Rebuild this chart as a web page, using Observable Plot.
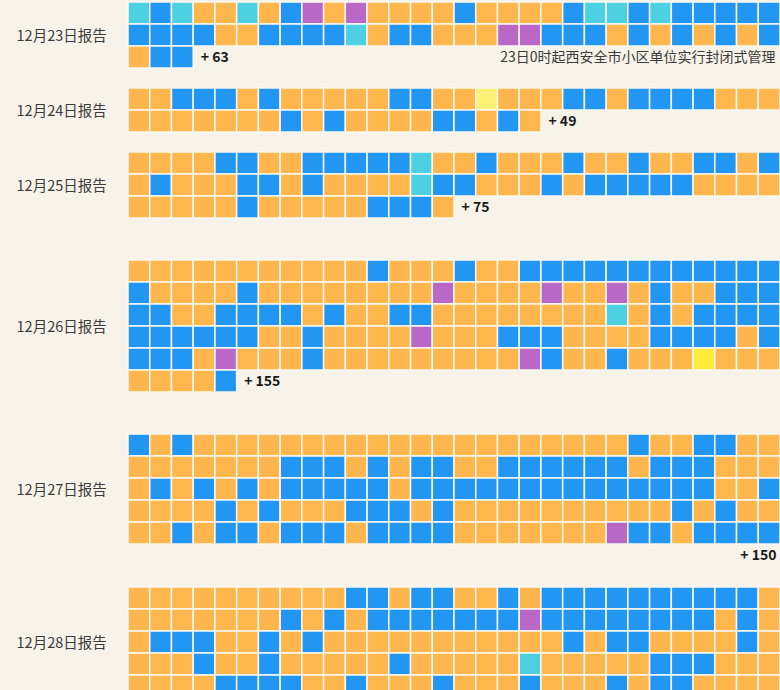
<!DOCTYPE html>
<html><head><meta charset="utf-8">
<script src="https://cdn.jsdelivr.net/npm/d3@7"></script>
<script src="https://cdn.jsdelivr.net/npm/@observablehq/plot@0.6"></script>
<style>
html,body{margin:0;padding:0;background:#F7F3E9;overflow:hidden;}
#chart svg{display:block;}
</style></head><body><div id="chart"></div>
<script>
// ---- data ----
const days = ["12月23日报告","12月24日报告","12月25日报告","12月26日报告","12月27日报告","12月28日报告"];
const newCases = [63, 49, 75, 155, 150, null];
const note = "23日0时起西安全市小区单位实行封闭式管理";
const noteDay = 0;

// O orange, B blue, C cyan, P purple, L light yellow, Y yellow
const cells23 = [
  "CBCOOCOBPOPOOOOBOOOOBCCBCBBBBB",
  "BBBBOOBBBBCOBBOOOPPBBBOBOBOBOB",
  "OBB"
];
const cells24 = [
  "OOBBBOBOOOOOBBOOLOOOBBOBBBBOOO",
  "OOOOOOOBOBOOOOBBOBO"
];
const cells25 = [
  "OOOOBBOOBBBBBCOOBOOOBOOBOOBBOB",
  "OBOOOBBOBOOOOCBBOOOBOBBBBBOOOO",
  "OOOOOBOOOOOBBBO"
];
const cells26 = [
  "OOOOOOOOOOOBOOOBOOBBBBBBBBBBBB",
  "BOOOOBOOOOOOOOPOOOOPOOPOBOOBBB",
  "BBOOBBBBOBOOBBOOOOOOOOCOBOBBBB",
  "BBBBBBOOBOOOOPOOOBBBOOOOBBBBOB",
  "BBBOPOOOBOOOOOOOOOPBOOBOOOYOOO",
  "OOOOB"
];
const cells27 = [
  "BOBOOOOOOOOOOOOOOOOOOOOBOOBBOO",
  "OOOOOOOBBBOBOBBOOBBBBBBOBBBOOO",
  "OBOBOBOBBBBBOBBBBBBBBBBBBBBOOB",
  "OOOOBOBOOOBBBOBOOOOOOOOOOBOBOO",
  "OOBOBBOBBBOBBBBOOOOOOOPBBOBBBB"
];
const cells28 = [
  "OOOOOOOOOOBBOBBOOBOBBBBBBBBBBO",
  "OOOOOOOBOBOBBBBBBBPBBBBBBBBOBO",
  "OBBBOOBOBOOOOOOOOOOOBOBBOOOOBO",
  "OOOBOOBOOOOOBOOOOOCOOOOOBBBOOO",
  "OOOOBBBBOOBOOOBOOOBOOOBOBBOOOO"
];
const dayCells = [cells23, cells24, cells25, cells26, cells27, cells28];
const categoryCodes = ["O","B","C","P","L","Y"];
const categoryColors = ["#FFB74D","#2196F3","#4DD0E1","#BA68C8","#FFF176","#FFEB3B"];

// ---- layout ----
const W = 780, H = 690, rowPx = 22, perRow = 30;
const topPx = 2;
const gapPx = [20, 20, 42, 42, 21];

const cells = [], labels = [], added = [], notes = [];
let y0 = topPx / rowPx;
dayCells.forEach((rows, i) => {
  rows.forEach((r, ri) => {
    [...r].forEach((code, ci) => cells.push({x: ci, y: y0 + ri, code}));
  });
  const nRows = rows.length;
  labels.push({x: -1, y: y0 + nRows / 2 + 0.05, text: days[i]});
  const last = rows[nRows - 1];
  let blockRows = nRows;
  if (newCases[i] != null) {
    if (last.length < perRow) {
      added.push({x: last.length, y: y0 + nRows - 0.5, text: "+ " + newCases[i], anchor: "start"});
    } else {
      added.push({x: perRow, y: y0 + nRows + 0.5, text: "+ " + newCases[i], anchor: "end"});
      blockRows += 1;
    }
  }
  if (i === noteDay) notes.push({x: perRow, y: y0 + nRows - 0.5, text: note});
  y0 += blockRows + (gapPx[i] ?? 20) / rowPx;
});

const font = "'Noto Sans CJK SC', 'Noto Sans', sans-serif";
const chart = Plot.plot({
  width: W, height: H, margin: 0,
  x: {domain: [0, perRow], range: [128, 780], axis: null},
  y: {domain: [0, H / rowPx], range: [0, H], axis: null},
  color: {type: "ordinal", domain: categoryCodes, range: categoryColors},
  style: {background: "transparent", fontFamily: font},
  marks: [
    Plot.rect(cells, {x1: "x", x2: d => d.x + 1, y1: "y", y2: d => d.y + 1, fill: "code", stroke: "#FCF9F2", strokeWidth: 1.5}),
    Plot.text(labels, {x: "x", y: "y", text: "text", textAnchor: "end", dx: 0, fontSize: 14.5, fill: "#3b3b3b"}),
    Plot.text(added.filter(d => d.anchor === "start"), {x: "x", y: "y", text: "text", textAnchor: "start", dx: 7, fontSize: 14, fontWeight: "bold", fill: "#1a1a1a"}),
    Plot.text(added.filter(d => d.anchor === "end"), {x: "x", y: "y", text: "text", textAnchor: "end", dx: -4, fontSize: 14, fontWeight: "bold", fill: "#1a1a1a"}),
    Plot.text(notes, {x: "x", y: "y", text: "text", textAnchor: "end", dx: -5, fontSize: 14, fill: "#3b3b3b"})
  ]
});
document.getElementById("chart").append(chart);
</script></body></html>
